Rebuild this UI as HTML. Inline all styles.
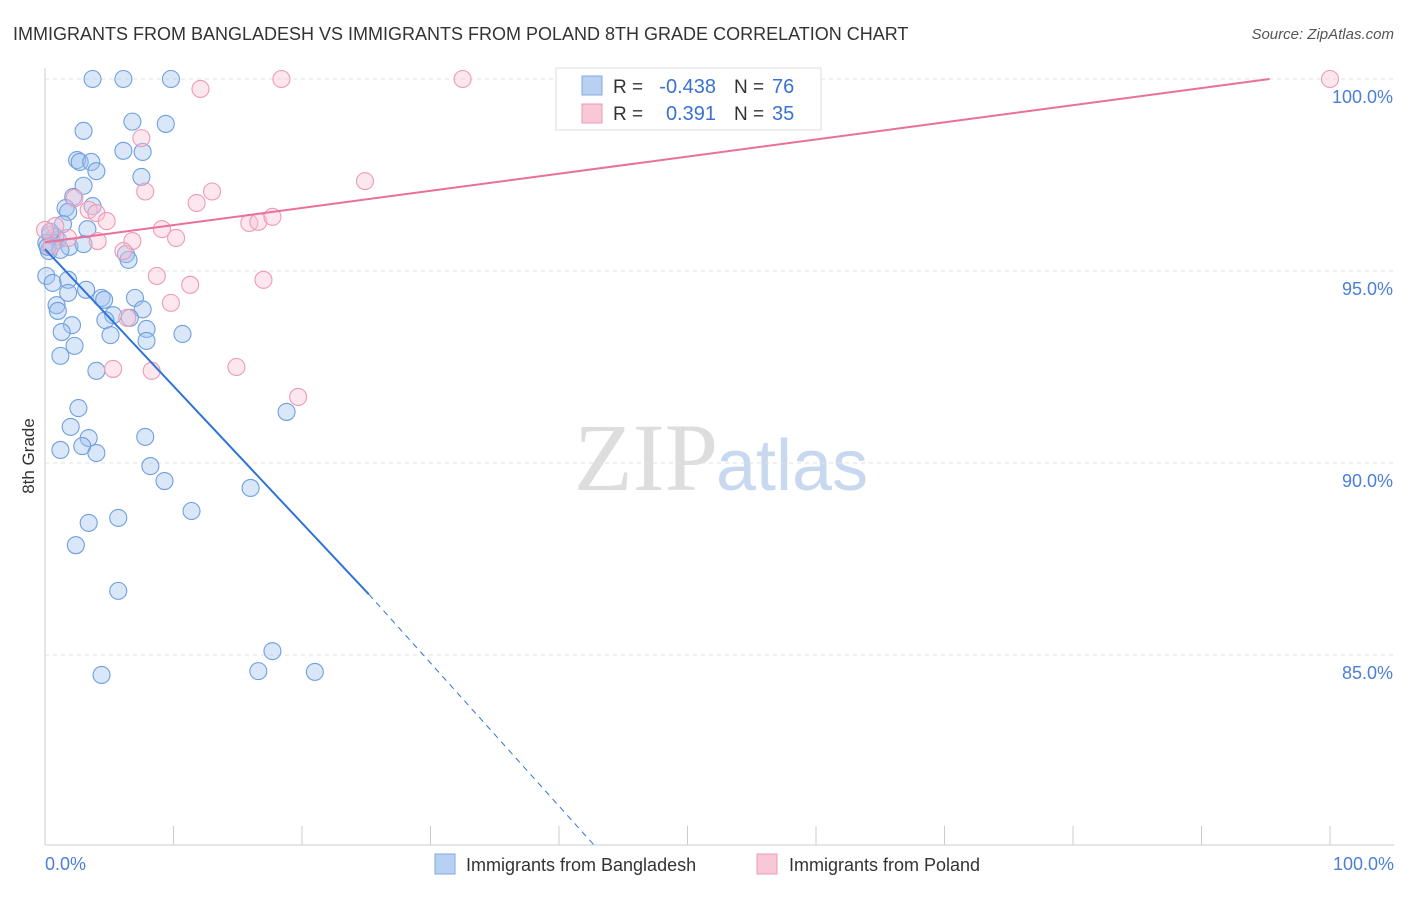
<!DOCTYPE html>
<html><head><meta charset="utf-8"><style>
body{margin:0;background:#fff;font-family:"Liberation Sans",sans-serif}
</style></head><body>
<svg width="1406" height="892" xmlns="http://www.w3.org/2000/svg">
<text x="13" y="40" font-size="18" fill="#333">IMMIGRANTS FROM BANGLADESH VS IMMIGRANTS FROM POLAND 8TH GRADE CORRELATION CHART</text>
<text x="1394" y="39" font-size="15" fill="#555" text-anchor="end" font-style="italic">Source: ZipAtlas.com</text>
<text x="718" y="490" font-size="96" fill="#ddd" text-anchor="end" font-family="Liberation Serif">ZIP</text>
<text x="716" y="490" font-size="72" fill="#c8d8ef">atlas</text>
<g id="grid"></g>
<line x1="45" y1="845" x2="1394" y2="845" stroke="#ccc"/>
<line x1="45" y1="68" x2="45" y2="845" stroke="#ccc"/>
<text transform="translate(34,456) rotate(-90)" font-size="17" fill="#333" text-anchor="middle">8th Grade</text>
<text x="45" y="870" font-size="18" fill="#4a7fd4">0.0%</text>
<text x="1394" y="870" font-size="18" fill="#4a7fd4" text-anchor="end">100.0%</text>
<g id="pts"></g>
<g id="trend"></g>
<g>
<rect x="556" y="68" width="265" height="62" fill="#fff" stroke="#ddd"/>
<rect x="582" y="76" width="20" height="19" fill="#b8d1f3" stroke="#7fa8e6"/>
<rect x="582" y="104" width="20" height="19" fill="#f8c8d7" stroke="#ee9ab5"/>
<text x="613" y="93" font-size="19" fill="#333">R =</text>
<text x="716" y="93" font-size="20" fill="#3a72d0" text-anchor="end">-0.438</text>
<text x="734" y="93" font-size="19" fill="#333">N =</text>
<text x="772" y="93" font-size="20" fill="#3a72d0">76</text>
<text x="613" y="120" font-size="19" fill="#333">R =</text>
<text x="716" y="120" font-size="20" fill="#3a72d0" text-anchor="end">0.391</text>
<text x="734" y="120" font-size="19" fill="#333">N =</text>
<text x="772" y="120" font-size="20" fill="#3a72d0">35</text>
</g>
<g>
<rect x="435" y="854" width="20" height="20" fill="#b8d1f3" stroke="#7fa8e6"/>
<text x="466" y="871" font-size="18" fill="#333">Immigrants from Bangladesh</text>
<rect x="757" y="854" width="20" height="20" fill="#f8c8d7" stroke="#ee9ab5"/>
<text x="789" y="871" font-size="18" fill="#333">Immigrants from Poland</text>
</g>
</svg>
<script>
const yTicks=[100,95,90,85];
const yTickLabels=["100.0%","95.0%","90.0%","85.0%"];
const xTicks=[0,10,20,30,40,50,60,70,80,90,100];
const bangX=[3.7,6.1,9.8,3.0,6.8,9.4,2.5,2.7,3.6,4.0,6.1,7.6,7.5,3.0,2.2,3.7,1.6,1.8,1.4,3.3,0.4,0.8,1.0,0.1,1.9,3.0,0.3,6.3,6.5,0.1,0.6,1.8,3.2,1.8,4.4,4.6,7.0,0.9,1.0,5.3,7.6,4.7,6.6,2.1,7.9,1.3,10.7,5.1,7.9,2.3,1.2,4.0,2.6,18.8,2.0,3.4,7.8,2.9,1.2,4.0,8.2,9.3,16.0,11.4,3.4,5.7,2.4,5.7,17.7,16.6,21.0,4.4,0.4,0.2,1.2];
const bangY=[100,100,100,98.65,98.89,98.83,97.89,97.84,97.84,97.6,98.13,98.1,97.45,97.22,96.93,96.69,96.64,96.54,96.22,96.09,95.94,95.89,95.81,95.73,95.63,95.7,95.52,95.44,95.29,94.87,94.69,94.77,94.51,94.43,94.3,94.25,94.3,94.11,93.96,93.85,94.0,93.72,93.78,93.59,93.49,93.41,93.36,93.33,93.18,93.05,92.79,92.4,91.43,91.33,90.94,90.65,90.68,90.44,90.34,90.26,89.92,89.53,89.35,88.75,88.44,88.57,87.86,86.67,85.1,84.58,84.56,84.48,96.02,95.63,95.55];
const polX=[12.1,18.4,32.5,100,7.5,24.9,7.8,13.0,11.8,2.3,3.4,4.0,4.8,0.8,0.0,9.1,15.9,16.6,17.7,10.2,4.1,6.8,0.5,1.8,6.1,8.7,11.3,17.0,9.8,6.4,5.3,8.3,14.9,19.7];
const polY=[99.74,100,100,100,98.46,97.34,97.07,97.07,96.77,96.9,96.59,96.51,96.3,96.17,96.07,96.09,96.25,96.28,96.41,95.86,95.78,95.78,95.65,95.86,95.52,94.87,94.64,94.77,94.17,93.78,92.45,92.4,92.5,91.72];
const bangTrend=[[0,95.57],[25.2,86.58]];
const bangTrendDash=[[25.2,86.58],[42.7,80.06]];
const polTrend=[[0,95.75],[95.3,100]];
const X=v=>45+v*12.85, Y=v=>79+(100-v)*38.4;
const NS="http://www.w3.org/2000/svg";
function mk(t,a,p){const e=document.createElementNS(NS,t);for(const k in a)e.setAttribute(k,a[k]);p.appendChild(e);return e;}
const grid=document.getElementById('grid');
yTicks.forEach((t,i)=>{
 const l=mk('line',{x1:45,x2:1394,y1:Y(t),y2:Y(t),stroke:'#e2e2e2','stroke-dasharray':'4,4'},grid);
 
 
 const tx=mk('text',{x:1393,y:Y(t)+24,'font-size':18,fill:'#4a7fd4','text-anchor':'end'},grid);
 tx.textContent=yTickLabels[i];
 
 
});
xTicks.forEach(t=>{
 const l=mk('line',{x1:X(t),x2:X(t),y1:826,y2:845,stroke:'#ccc'},grid);
 
 
});
const pts=document.getElementById('pts');
bangX.forEach((x,i)=>{
 const c=mk('circle',{cx:X(x),cy:Y(bangY[i]),r:8.5,fill:'rgba(160,195,240,0.4)',stroke:'#6f9fe0','stroke-width':1.1},pts);
 
 
});
polX.forEach((x,i)=>{
 const c=mk('circle',{cx:X(x),cy:Y(polY[i]),r:8.5,fill:'rgba(248,195,212,0.4)',stroke:'#ee9ab5','stroke-width':1.1},pts);
 
 
});
const tr=document.getElementById('trend');
let a=mk('line',{x1:X(bangTrend[0][0]),y1:Y(bangTrend[0][1]),x2:X(bangTrend[1][0]),y2:Y(bangTrend[1][1]),stroke:'#2f74d6','stroke-width':2},tr);


a=mk('line',{x1:X(bangTrendDash[0][0]),y1:Y(bangTrendDash[0][1]),x2:X(bangTrendDash[1][0]),y2:Y(bangTrendDash[1][1]),stroke:'#2f74d6','stroke-width':1,'stroke-dasharray':'6,5'},tr);


a=mk('line',{x1:X(polTrend[0][0]),y1:Y(polTrend[0][1]),x2:X(polTrend[1][0]),y2:Y(polTrend[1][1]),stroke:'#e8709a','stroke-width':2},tr);


</script>
</body></html>
